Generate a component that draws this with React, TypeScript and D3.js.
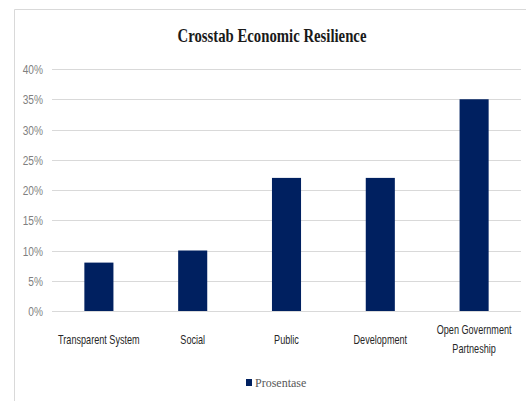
import React from "react";
import * as d3 from "d3";

const categories = ["Transparent System", "Social", "Public", "Development", "Open Government Partneship"];
const values = [0.08, 0.10, 0.22, 0.22, 0.35];
const yTicks = [0, 0.05, 0.10, 0.15, 0.20, 0.25, 0.30, 0.35, 0.40];
const seriesName = "Prosentase";
const title = "Crosstab Economic Resilience";

const W = 526, H = 401;
const sans = "'Liberation Sans', Arial, sans-serif";

export default function App() {
  const x = d3.scaleBand<string>().domain(categories).range([52, 521]).paddingInner(0.69).paddingOuter(0.345);
  const y = d3.scaleLinear().domain([0, 0.4]).range([311, 69]);
  const fmt = d3.format(".0%");

  const wrap = (s: string) => (s === "Open Government Partneship" ? ["Open Government", "Partneship"] : [s]);

  return (
    <svg width={W} height={H} style={{ position: "absolute", left: 0, top: 0, background: "#fff" }}>
      <line x1={14.5} y1={9.5} x2={W} y2={9.5} stroke="#d9d9d9" />
      <line x1={14.5} y1={9.5} x2={14.5} y2={H} stroke="#d9d9d9" />
      <g transform="translate(272,42) scale(0.82,1)">
        <text x={0} y={0} textAnchor="middle" fontFamily="'Liberation Serif', serif" fontWeight="bold" fontSize={18} fill="#1a1a1a">{title}</text>
      </g>
      {yTicks.map((t) => (
        <g key={t}>
          <line x1={52} x2={521} y1={Math.round(y(t)) + 0.5} y2={Math.round(y(t)) + 0.5} stroke="#d9d9d9" strokeWidth={1} />
          <g transform={`translate(43,${y(t) + 5}) scale(0.78,1)`}>
            <text x={0} y={0} textAnchor="end" fontFamily={sans} fontSize={13} fill="#7f7f7f">{fmt(t)}</text>
          </g>
        </g>
      ))}
      {categories.map((c, i) => (
        <rect key={c} x={x(c)} y={y(values[i])} width={x.bandwidth()} height={y(0) - y(values[i])} fill="#002060" />
      ))}
      {categories.map((c) => {
        const lines = wrap(c);
        const cx = (x(c) as number) + x.bandwidth() / 2;
        return (
          <g key={c} transform={`translate(${cx},0) scale(0.7,1)`}>
            <text x={0} textAnchor="middle" fontFamily={sans} fontSize={13} fill="#262626">
              {lines.map((l, j) => (
                <tspan key={j} x={0} y={(lines.length > 1 ? 334 : 344) + j * 19}>{l}</tspan>
              ))}
            </text>
          </g>
        );
      })}
      <rect x={246} y={379} width={6} height={7} fill="#002060" />
      <text x={255} y={387} fontFamily="'Liberation Serif', serif" fontSize={12} fill="#595959">{seriesName}</text>
    </svg>
  );
}
